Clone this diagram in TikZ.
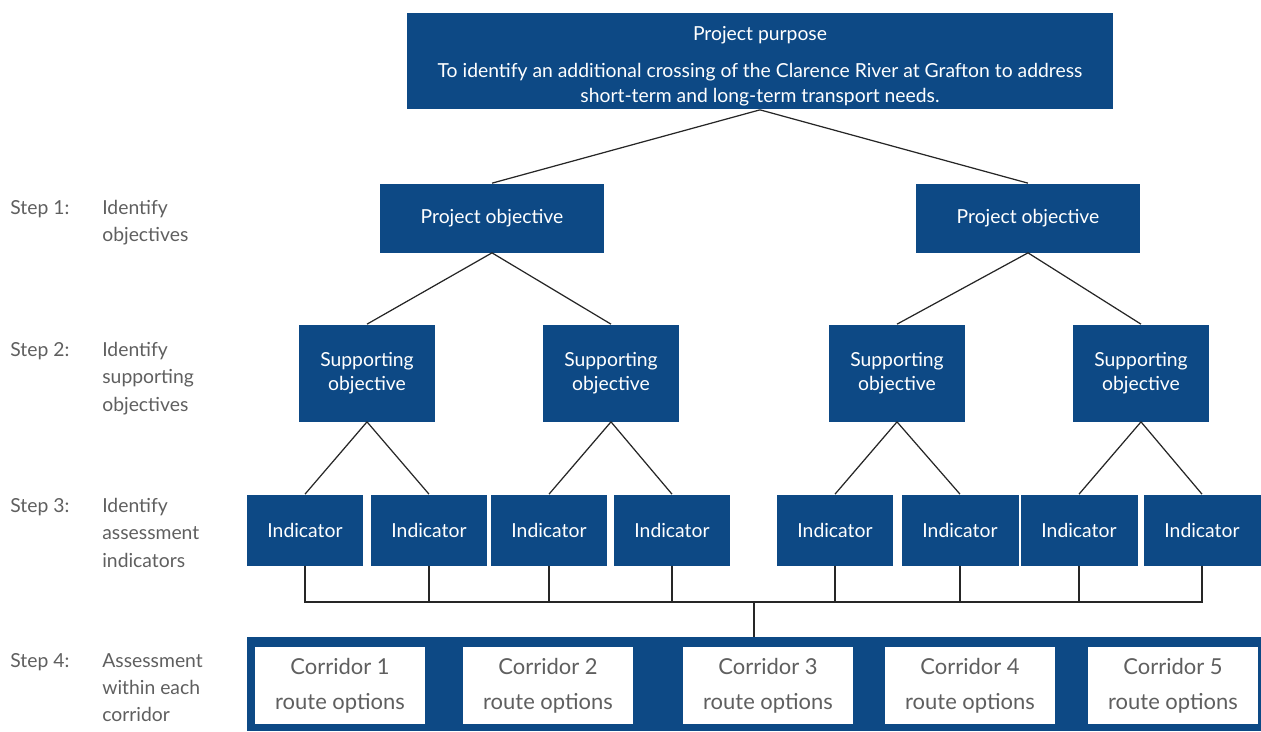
\documentclass[tikz,border=0pt]{standalone}
\usepackage{fontspec}
\setmainfont{Lato}
\usepackage{tikz}
\usetikzlibrary{positioning}
\definecolor{navy}{RGB}{13,73,133}
\definecolor{labelgrey}{RGB}{95,95,95}

\begin{document}
\begin{tikzpicture}[
        x=0.02cm, y=-0.02cm,
        box/.style={rectangle, fill=navy, text=white, align=center, font=\fontsize{11}{14}\selectfont},
        objective/.style={box, minimum width=4.48cm, minimum height=1.38cm},
        support/.style={box, minimum width=2.72cm, minimum height=1.94cm},
        indicator/.style={box, minimum width=2.34cm, minimum height=1.42cm},
        corridor/.style={rectangle, fill=white, text=labelgrey, align=center, minimum width=3.4cm, minimum height=1.54cm, font=\fontsize{12.5}{20}\selectfont},
        steplabel/.style={anchor=north west, inner sep=0pt, text=labelgrey, align=left, font=\fontsize{11}{15.5}\selectfont},
        link/.style={draw=black!85, line width=0.7pt}
    ]
        \useasboundingbox (0,0) rectangle (1261,731);

        % Purpose
        \node[box, inner ysep=1pt, minimum width=14.14cm, minimum height=1.94cm] (purpose) at (760,61)
            {\rule{0pt}{14pt}Project purpose\\[7pt] To identify an additional crossing of the Clarence River at Grafton to address\\ short-term and long-term transport needs.};

        % Objectives
        \node[objective] (obj1) at (492,218) {Project objective};
        \node[objective] (obj2) at (1028,218) {Project objective};

        % Supporting objectives
        \node[support] (sup1) at (367,373) {Supporting\\objective};
        \node[support] (sup2) at (611,373) {Supporting\\objective};
        \node[support] (sup3) at (897,373) {Supporting\\objective};
        \node[support] (sup4) at (1141,373) {Supporting\\objective};

        % Indicators
        \node[indicator] (ind1) at (305,530) {Indicator};
        \node[indicator] (ind2) at (429,530) {Indicator};
        \node[indicator] (ind3) at (549,530) {Indicator};
        \node[indicator] (ind4) at (672,530) {Indicator};
        \node[indicator] (ind5) at (835,530) {Indicator};
        \node[indicator] (ind6) at (960,530) {Indicator};
        \node[indicator] (ind7) at (1079,530) {Indicator};
        \node[indicator] (ind8) at (1202,530) {Indicator};

        % Corridors
        \node[rectangle, fill=navy, minimum width=20.28cm, minimum height=1.88cm] (corridors) at (754,684) {};
        \node[corridor] (corr1) at (340,685.5) {Corridor 1\\route options};
        \node[corridor] (corr2) at (548,685.5) {Corridor 2\\route options};
        \node[corridor] (corr3) at (768,685.5) {Corridor 3\\route options};
        \node[corridor] (corr4) at (970,685.5) {Corridor 4\\route options};
        \node[corridor] (corr5) at (1173,685.5) {Corridor 5\\route options};

        % Step labels
        \node[steplabel] (step1) at (10,200) {Step 1:};
        \node[steplabel] (desc1) at (102,200) {Identify\\objectives};
        \node[steplabel] (step2) at (10,342) {Step 2:};
        \node[steplabel] (desc2) at (102,342) {Identify\\supporting\\objectives};
        \node[steplabel] (step3) at (10,498) {Step 3:};
        \node[steplabel] (desc3) at (102,498) {Identify\\assessment\\indicators};
        \node[steplabel] (step4) at (10,653) {Step 4:};
        \node[steplabel] (desc4) at (102,653) {Assessment\\within each\\corridor};

        % Links
        \draw[link] (purpose.south) -- (obj1.north);
        \draw[link] (purpose.south) -- (obj2.north);

        \draw[link] (obj1.south) -- (sup1.north);
        \draw[link] (obj1.south) -- (sup2.north);
        \draw[link] (obj2.south) -- (sup3.north);
        \draw[link] (obj2.south) -- (sup4.north);

        \draw[link] (sup1.south) -- (ind1.north);
        \draw[link] (sup1.south) -- (ind2.north);
        \draw[link] (sup2.south) -- (ind3.north);
        \draw[link] (sup2.south) -- (ind4.north);
        \draw[link] (sup3.south) -- (ind5.north);
        \draw[link] (sup3.south) -- (ind6.north);
        \draw[link] (sup4.south) -- (ind7.north);
        \draw[link] (sup4.south) -- (ind8.north);

        % Bus to corridors
        \coordinate (bus) at (corridors.north |- 0,602);
        \foreach \i in {1,...,8}
            \draw[link] (ind\i.south) |- (bus);
        \draw[link] (bus) -- (corridors.north);
    \end{tikzpicture}
\end{document}
